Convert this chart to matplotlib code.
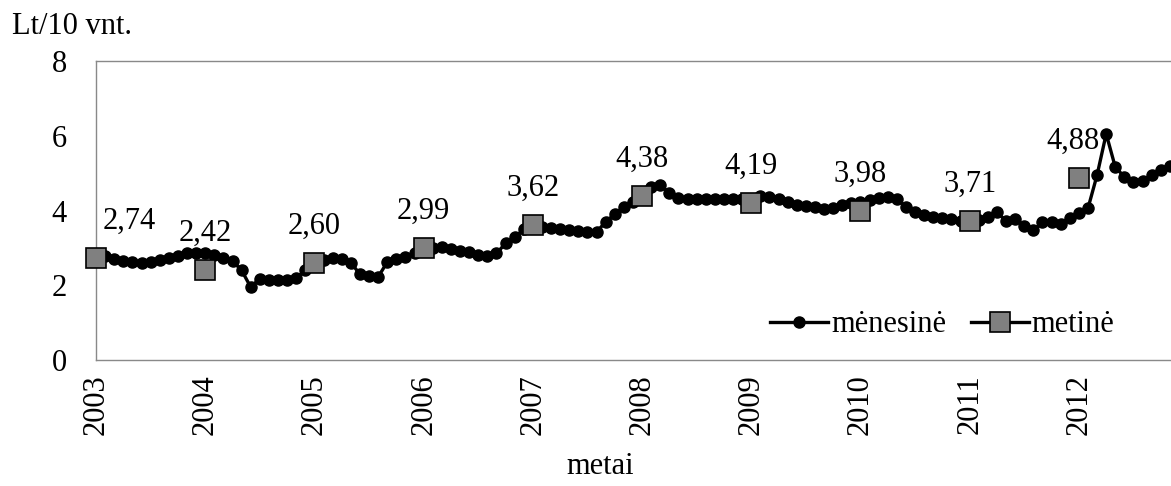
import numpy as np
import matplotlib
matplotlib.use("Agg")
import matplotlib.pyplot as plt

plt.rcParams['font.family'] = ['Liberation Serif', 'DejaVu Serif']

# monthly values, Jan 2003 .. Nov 2012 (Lt/10 vnt.)
monthly_2003 = [2.80, 2.78, 2.70, 2.65, 2.62, 2.60, 2.63, 2.68, 2.72, 2.78, 2.85, 2.85]
monthly_2004 = [2.85, 2.80, 2.72, 2.65, 2.40, 1.95, 2.18, 2.15, 2.15, 2.15, 2.20, 2.40]
monthly_2005 = [2.62, 2.68, 2.72, 2.70, 2.60, 2.30, 2.25, 2.22, 2.62, 2.70, 2.75, 2.85]
monthly_2006 = [3.00, 3.00, 3.02, 2.98, 2.92, 2.88, 2.82, 2.77, 2.85, 3.12, 3.28, 3.50]
monthly_2007 = [3.58, 3.55, 3.52, 3.50, 3.48, 3.45, 3.42, 3.42, 3.70, 3.90, 4.10, 4.22]
monthly_2008 = [4.38, 4.63, 4.68, 4.47, 4.33, 4.32, 4.32, 4.30, 4.32, 4.32, 4.32, 4.32]
monthly_2009 = [4.32, 4.38, 4.36, 4.30, 4.22, 4.15, 4.12, 4.10, 4.05, 4.08, 4.15, 4.20]
monthly_2010 = [4.22, 4.28, 4.33, 4.36, 4.30, 4.10, 3.95, 3.88, 3.83, 3.80, 3.78, 3.73]
monthly_2011 = [3.69, 3.75, 3.82, 3.95, 3.72, 3.78, 3.58, 3.48, 3.68, 3.68, 3.65, 3.80]
monthly_2012 = [3.93, 4.06, 4.95, 6.05, 5.16, 4.90, 4.77, 4.80, 4.95, 5.08, 5.20]

years = [2003, 2004, 2005, 2006, 2007, 2008, 2009, 2010, 2011, 2012]
annual = [2.74, 2.42, 2.60, 2.99, 3.62, 4.38, 4.19, 3.98, 3.71, 4.88]


def main():
    monthly = (monthly_2003 + monthly_2004 + monthly_2005 + monthly_2006 + monthly_2007
               + monthly_2008 + monthly_2009 + monthly_2010 + monthly_2011 + monthly_2012)
    mx = np.arange(len(monthly))
    ax_pos = np.arange(len(years)) * 12

    fig = plt.figure(figsize=(11.71, 4.86), dpi=100)
    ax = fig.add_axes([96 / 1171, 1 - 360 / 486, (1179 - 96) / 1171, (360 - 61) / 486])

    ax.plot(mx, monthly, color='black', lw=2.4, marker='o', ms=8,
            label='mėnesinė', clip_on=False, zorder=3)
    ax.plot(ax_pos, annual, color='black', lw=0, marker='s', ms=14,
            mfc='#808080', mec='black', mew=1.2, clip_on=False, zorder=4)

    for i, (x, v) in enumerate(zip(ax_pos, annual)):
        lab = f"{v:.2f}".replace('.', ',')
        if i == 0:
            ax.annotate(lab, (x, v), xytext=(5, 21), textcoords='offset points',
                        ha='left', va='baseline', fontsize=22)
        elif i == len(annual) - 1:
            ax.annotate(lab, (x, v), xytext=(-4, 21), textcoords='offset points',
                        ha='center', va='baseline', fontsize=22)
        else:
            ax.annotate(lab, (x, v), xytext=(0, 21), textcoords='offset points',
                        ha='center', va='baseline', fontsize=22)

    ax.set_xlim(0, 119)
    ax.set_ylim(0, 8)
    ax.set_yticks([0, 2, 4, 6, 8])
    ax.set_xticks(ax_pos)
    ax.set_xticklabels([str(y) for y in years], rotation=90)
    ax.tick_params(axis='y', length=0, pad=21, labelsize=22)
    ax.tick_params(axis='x', length=0, pad=10, labelsize=22)
    for s in ax.spines.values():
        s.set_color('#898989')
        s.set_linewidth(1.0)

    # legend handles
    h1, = ax.plot([], [], color='black', lw=2.4, marker='o', ms=8)
    h2, = ax.plot([], [], color='black', lw=2.4, marker='s', ms=14,
                  mfc='#808080', mec='black', mew=1.2)
    fig.legend([h1, h2], ['mėnesinė', 'metinė'], loc='center left',
               bbox_to_anchor=(770 / 1171, 1 - 325 / 486), ncol=2, frameon=False,
               fontsize=22, handlelength=1.9, handletextpad=0.1, columnspacing=0.8,
               borderpad=0, borderaxespad=0)

    fig.text(72 / 1171, 1 - 26 / 486, 'Lt/10 vnt.', ha='center', va='center', fontsize=22)
    fig.text(600 / 1171, 1 - 466 / 486, 'metai', ha='center', va='center', fontsize=22)

    fig.savefig('out.png', dpi=100)


if __name__ == "__main__":
    main()
